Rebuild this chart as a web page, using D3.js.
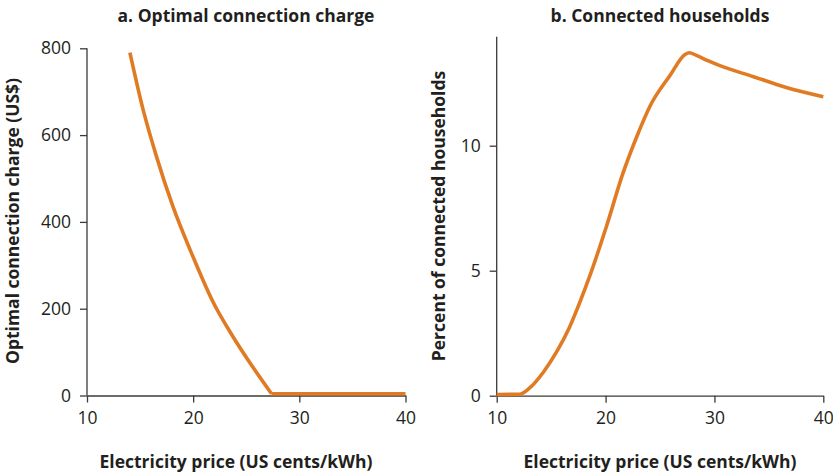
<!DOCTYPE html>
<html><head><meta charset="utf-8">
<script src="https://cdn.jsdelivr.net/npm/d3@7"></script>
<style>body{margin:0;background:#fff}svg{display:block}text{font-family:"Open Sans","Noto Sans",sans-serif;fill:#231f20}</style>
</head><body><svg id="c" width="833" height="475"></svg>
<script>
const priceA = [14.04, 15.29, 16.54, 18.1, 19.98, 21.86, 23.74, 25.6, 27.38, 30, 35, 40];
const chargeA = [790, 658, 551, 435, 320, 216, 136, 66, 4, 4, 4, 4];
const kinkA = 8; // index where the charge reaches its floor
const priceB = [10, 12.1, 13.0, 14.3, 15.5, 16.7, 17.65, 18.6, 20.1, 21.6, 22.9, 24.1, 25.9, 27.3, 27.7, 28.3, 29.4, 30.5, 33.6, 36.6, 40];
const pctB = [0.05, 0.06, 0.3, 0.95, 1.75, 2.75, 3.75, 4.85, 6.8, 8.9, 10.4, 11.6, 12.8, 13.65, 13.72, 13.62, 13.4, 13.2, 12.76, 12.33, 11.96];
const xTicks = [10, 20, 30, 40];
const yTicksA = [0, 200, 400, 600, 800];
const yTicksB = [0, 5, 10];
const titles = ["a. Optimal connection charge", "b. Connected households"];
const yLabels = ["Optimal connection charge (US$)", "Percent of connected households"];
const xLabel = "Electricity price (US cents/kWh)";

const svg = d3.select("#c");
const orange = "#e07b24", axisCol = "#3a3a3a";

function panel(cfg){
  const g = svg.append("g");
  const x = d3.scaleLinear().domain([10,40]).range(cfg.xr);
  const y = d3.scaleLinear().domain(cfg.yd).range(cfg.yr);
  const xa = g.append("g").attr("transform",`translate(0,${cfg.yr[0]})`)
    .call(d3.axisBottom(x).tickValues(xTicks).tickSize(7).tickSizeOuter(0).tickPadding(9));
  const ya = g.append("g").attr("transform",`translate(${cfg.xr[0]},0)`)
    .call(d3.axisLeft(y).tickValues(cfg.yt).tickSize(7).tickSizeOuter(0).tickPadding(9));
  [xa,ya].forEach(a=>{
    a.selectAll("path,line").attr("stroke",axisCol).attr("stroke-width",1.3);
    a.selectAll("text").attr("font-size",17.5).attr("fill","#231f20").style("font-family",'"Open Sans",sans-serif');
  });
  ya.select(".domain").attr("d",`M0,${cfg.yr[0]}V${cfg.yr[1]}`);
  const pts = cfg.xs.map((d,i)=>[d,cfg.ys[i]]);
  const smooth = d3.line().x(d=>x(d[0])).y(d=>y(d[1])).curve(d3.curveMonotoneX);
  const straight = d3.line().x(d=>x(d[0])).y(d=>y(d[1]));
  let dStr;
  if (cfg.kink != null) {
    dStr = smooth(pts.slice(0, cfg.kink+1)) + straight(pts.slice(cfg.kink));
  } else dStr = smooth(pts);
  g.append("path").attr("fill","none").attr("stroke",orange).attr("stroke-width",3.6)
    .attr("stroke-linejoin","round").attr("stroke-linecap","butt").attr("d",dStr);
  g.append("text").attr("x",cfg.tx).attr("y",22).attr("text-anchor","middle")
    .attr("font-size",17.5).attr("font-weight","bold").text(cfg.title);
  g.append("text").attr("x",cfg.xlx).attr("y",468).attr("text-anchor","middle")
    .attr("font-size",17.5).attr("font-weight","bold").text(xLabel);
  g.append("text").attr("transform",`translate(${cfg.ylx},${cfg.yly}) rotate(-90)`)
    .attr("text-anchor","middle").attr("font-size",17.5).attr("font-weight","bold").text(cfg.ylabel);
}
panel({xr:[87,405.5], yd:[0,800], yr:[395.5,48.3], yt:yTicksA, xs:priceA, ys:chargeA, kink:kinkA,
  title:titles[0], tx:246, xlx:236, ylabel:yLabels[0], ylx:19, yly:221});
panel({xr:[496.7,823.3], yd:[0,14.36], yr:[395.7,36.7], yt:yTicksB, xs:priceB, ys:pctB,
  title:titles[1], tx:660, xlx:660, ylabel:yLabels[1], ylx:445, yly:216});
</script></body></html>
